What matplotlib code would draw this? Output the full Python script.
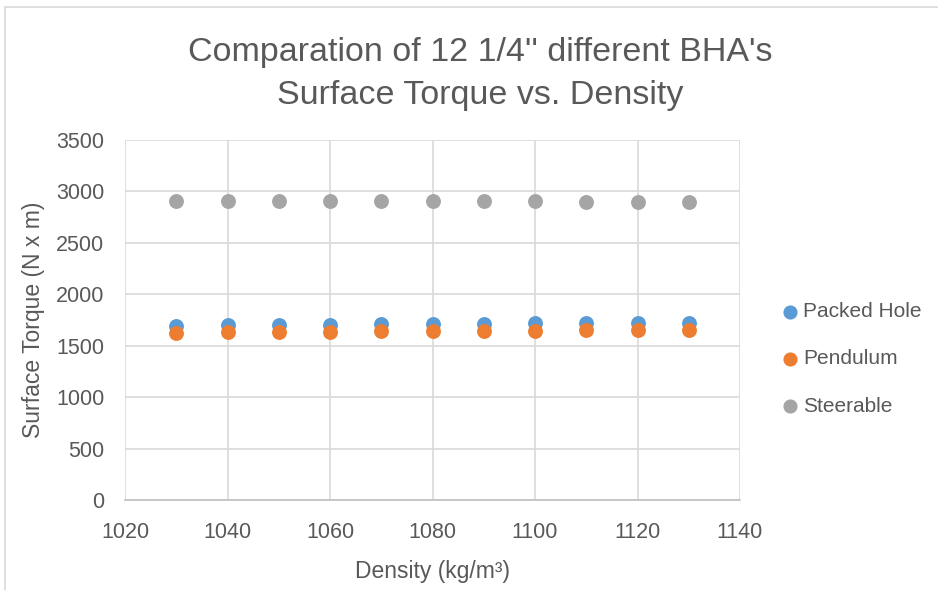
import matplotlib
matplotlib.use("Agg")
import matplotlib.pyplot as plt
from matplotlib.patches import Rectangle

# Data
density = [1030, 1040, 1050, 1060, 1070, 1080, 1090, 1100, 1110, 1120, 1130]
packed_hole = [1695, 1698, 1701, 1704, 1707, 1710, 1713, 1716, 1719, 1722, 1725]
pendulum = [1628, 1631, 1633, 1636, 1639, 1641, 1644, 1647, 1650, 1653, 1656]
steerable = [2910, 2909, 2908, 2907, 2906, 2905, 2904, 2903, 2902, 2901, 2900]

series_names = ["Packed Hole", "Pendulum", "Steerable"]
series_colors = ["#5B9BD5", "#ED7D31", "#A5A5A5"]
x_ticks = [1020, 1040, 1060, 1080, 1100, 1120, 1140]
y_ticks = [0, 500, 1000, 1500, 2000, 2500, 3000, 3500]

TEXT = "#595959"
plt.rcParams["font.family"] = ["Liberation Sans", "DejaVu Sans"]

fig = plt.figure(figsize=(9.38, 5.90), dpi=100)
ax = fig.add_axes([125 / 938, 1 - 500 / 590, 615 / 938, 360 / 590])

# chart border (light gray frame)
fig.patches.append(Rectangle((5 / 938, -0.05), 1.0, 1 - 7 / 590 + 0.05,
                             transform=fig.transFigure, fill=False,
                             edgecolor="#d9d9d9", linewidth=1.2))

for vals, name, col in zip([packed_hole, pendulum, steerable], series_names, series_colors):
    ax.scatter(density, vals, s=115, color=col, label=name, zorder=3, linewidths=0)

ax.set_xlim(1020, 1140)
ax.set_ylim(0, 3500)
ax.set_xticks(x_ticks)
ax.set_yticks(y_ticks)
ax.grid(True, color="#d9d9d9", linewidth=1.2)
ax.set_axisbelow(True)
for side in ["top", "right", "left"]:
    ax.spines[side].set_visible(False)
ax.spines["bottom"].set_color("#bfbfbf")
ax.spines["bottom"].set_linewidth(1.2)
ax.tick_params(axis="both", length=0, labelsize=15.5, labelcolor=TEXT)
ax.tick_params(axis="x", pad=16)
ax.tick_params(axis="y", pad=15)

ax.set_xlabel("Density (kg/m³)", fontsize=16.5, color=TEXT, labelpad=12)
ax.set_ylabel("Surface Torque (N x m)", fontsize=16.5, color=TEXT, labelpad=8)

fig.text(0.512, 1 - 74 / 590, "Comparation of 12 1/4'' different BHA's\nSurface Torque vs. Density",
         ha="center", va="center", fontsize=24.5, color=TEXT, linespacing=1.5)

leg = ax.legend(loc="center left", bbox_to_anchor=(1.065, 0.392), frameon=False,
                fontsize=15, labelcolor=TEXT, handletextpad=0.1, handlelength=1.0,
                labelspacing=1.35, markerscale=0.95, borderaxespad=0, borderpad=0)

fig.savefig("out.png", dpi=100)
